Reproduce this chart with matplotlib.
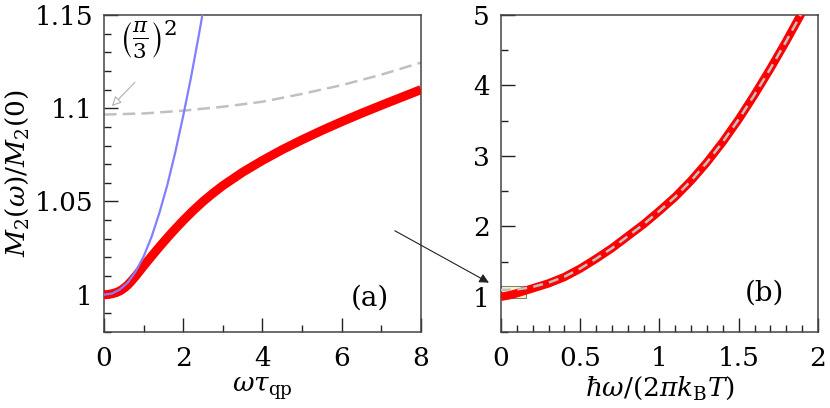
import matplotlib
matplotlib.use("Agg")
from matplotlib import pyplot as plt
from matplotlib.patches import Rectangle, ConnectionPatch
from matplotlib.ticker import MultipleLocator, FixedLocator, FixedFormatter

plt.rcParams['font.family'] = 'DejaVu Serif'
plt.rcParams['mathtext.fontset'] = 'dejavuserif'
plt.rcParams['font.size'] = 19

# panel (a): M2(w)/M2(0) vs w*tau_qp
xa_red = [0, 0.1, 0.2, 0.3, 0.4, 0.5, 0.6, 0.7, 0.8, 0.9, 1.0, 1.2, 1.4, 1.6,
          1.8, 2.0, 2.25, 2.5, 2.75, 3.0, 3.5, 4.0, 4.5, 5.0, 5.5, 6.0, 6.5,
          7.0, 7.5, 8.0]
ya_red = [1.0, 1.0001, 1.0005, 1.0011, 1.002, 1.0034, 1.0052, 1.0075, 1.0100,
          1.0127, 1.0154, 1.0206, 1.0257, 1.0306, 1.0353, 1.0398, 1.0451,
          1.0500, 1.0544, 1.0585, 1.0657, 1.0720, 1.0778, 1.0831, 1.0881,
          1.0928, 1.0973, 1.1016, 1.1058, 1.1100]
xa_blue = [0, 0.2, 0.4, 0.6, 0.8, 1.0, 1.2, 1.4, 1.6, 1.8, 2.0, 2.2, 2.4, 2.6]
ya_blue = [1.0, 1.0006, 1.0028, 1.0065, 1.0125, 1.0205, 1.031, 1.044, 1.059,
           1.0765, 1.096, 1.117, 1.140, 1.164]
xa_gray = [0, 1, 2, 3, 4, 5, 6, 7, 8]
ya_gray = [1.0966, 1.0972, 1.0987, 1.1008, 1.1035, 1.1077, 1.1124, 1.118, 1.1245]

# panel (b): M2(w)/M2(0) vs hbar w/(2 pi kB T)
xb = [0, 0.05, 0.1, 0.15, 0.2, 0.3, 0.4, 0.5, 0.6, 0.7, 0.8, 0.9, 1.0, 1.1,
      1.2, 1.3, 1.4, 1.5, 1.6, 1.7, 1.8, 1.9, 2.0]
yb_red = [1.0, 1.02, 1.05, 1.085, 1.12, 1.19, 1.28, 1.40, 1.54, 1.69, 1.86,
          2.03, 2.22, 2.42, 2.65, 2.91, 3.20, 3.52, 3.87, 4.24, 4.63, 5.04, 5.45]
yb_gray = [1.097, 1.10, 1.105, 1.12, 1.14, 1.20, 1.285, 1.40, 1.54, 1.69, 1.86,
           2.03, 2.22, 2.42, 2.65, 2.91, 3.20, 3.52, 3.87, 4.24, 4.63, 5.04, 5.45]

fig = plt.figure(figsize=(8.3, 4.08), dpi=100)
ax1 = fig.add_axes([0.1253, 0.1863, 0.3819, 0.7769])
ax2 = fig.add_axes([0.6036, 0.1863, 0.3819, 0.7769])

for ax in (ax1, ax2):
    for s in ax.spines.values():
        s.set_color('#444444')
        s.set_linewidth(1.1)
    ax.tick_params(which='both', direction='in', top=False, right=False,
                   color='#222222', width=1.0, labelsize=19)
    ax.tick_params(which='major', length=10, pad=10)
    ax.tick_params(which='minor', length=5)
    ax.tick_params(axis='y', which='major', pad=8)

# (a)
ax1.plot(xa_gray, ya_gray, color='#c0c0c0', lw=1.8, dashes=(5, 2.5), zorder=2)
ax1.plot(xa_red, ya_red, color='red', lw=6.5, solid_capstyle='butt',
         solid_joinstyle='round', zorder=3)
ax1.plot(xa_blue, ya_blue, color='#8080ff', lw=1.6, zorder=4)
ax1.set_xlim(0, 8)
ax1.set_ylim(0.98, 1.15)
ax1.xaxis.set_major_locator(MultipleLocator(2))
ax1.xaxis.set_minor_locator(MultipleLocator(1))
ax1.yaxis.set_major_locator(FixedLocator([1.0, 1.05, 1.1, 1.15]))
ax1.yaxis.set_major_formatter(FixedFormatter(['1', '1.05', '1.1', '1.15']))
ax1.yaxis.set_minor_locator(MultipleLocator(0.01))
ax1.set_xlabel(r'$\omega\tau_{\rm qp}$', labelpad=3)
ax1.set_ylabel(r'$M_2(\omega)/M_2(0)$', labelpad=2)
ax1.text(6.7, 0.998, '(a)', fontsize=20, ha='center', va='center')
ax1.text(0.38, 1.137, r'$\left(\frac{\pi}{3}\right)^2$', fontsize=22,
         ha='left', va='center')
ax1.annotate('', xy=(0.15, 1.1001), xytext=(0.83, 1.115),
             arrowprops=dict(arrowstyle='-|>', ec='#b0b0b0', fc='white',
                             lw=0.8, mutation_scale=14))

# (b)
ax2.add_patch(Rectangle((0, 0.98), 0.16, 0.17, facecolor='#fff6c0',
                        edgecolor='#808080', lw=0.8, zorder=1))
ax2.plot(xb, yb_red, color='red', lw=6, solid_capstyle='butt', zorder=3)
ax2.plot(xb, yb_gray, color='#c0c0c0', lw=1.8, dashes=(4, 2.5), zorder=4)
ax2.set_xlim(0, 2)
ax2.set_ylim(0.5, 5)
ax2.xaxis.set_major_locator(FixedLocator([0, 0.5, 1, 1.5, 2]))
ax2.xaxis.set_major_formatter(FixedFormatter(['0', '0.5', '1', '1.5', '2']))
ax2.xaxis.set_minor_locator(MultipleLocator(0.1))
ax2.yaxis.set_major_locator(FixedLocator([1, 2, 3, 4, 5]))
ax2.yaxis.set_major_formatter(FixedFormatter(['1', '2', '3', '4', '5']))
ax2.yaxis.set_minor_locator(MultipleLocator(0.5))
ax2.set_xlabel(r'$\hbar\omega/(2\pi k_{\rm B}T)$', labelpad=3)
ax2.text(1.66, 1.05, '(b)', fontsize=20, ha='center', va='center')

con = ConnectionPatch(xyA=(7.34, 1.0343), coordsA=ax1.transData,
                      xyB=(-0.076, 1.20), coordsB=ax2.transData,
                      arrowstyle='-|>', color='#222222', lw=0.8,
                      mutation_scale=14)
fig.add_artist(con)

plt.savefig('out.png', dpi=100)
